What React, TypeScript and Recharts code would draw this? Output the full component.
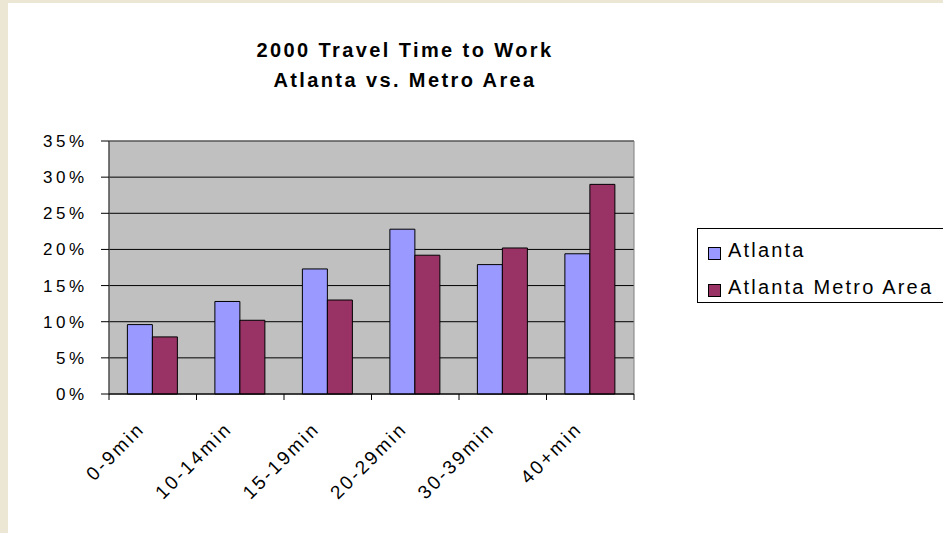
import React from "react";
import { BarChart, Bar, XAxis, YAxis, CartesianGrid, Legend, ReferenceArea } from "recharts";

const categories = ["0-9min", "10-14min", "15-19min", "20-29min", "30-39min", "40+min"];
const atlanta = [9.6, 12.8, 17.3, 22.8, 17.9, 19.4];
const metro = [7.9, 10.2, 13.0, 19.2, 20.2, 29.0];
const yTicks = [0, 5, 10, 15, 20, 25, 30, 35];
const seriesNames = ["Atlanta", "Atlanta Metro Area"];
const titleLines = ["2000 Travel Time to Work", "Atlanta vs. Metro Area"];

const data = categories.map((c, i) => ({ name: c, atlanta: atlanta[i], metro: metro[i] }));

const W = 943;
const H = 533;
const PLOT_LEFT = 109;
const PLOT_RIGHT = 634;
const PLOT_TOP = 141;
const PLOT_BOTTOM = 394;
const Y_AXIS_W = 80;
const X_AXIS_H = 100;
const BAND = (PLOT_RIGHT - PLOT_LEFT) / categories.length;
const FONT = "Arial, 'Liberation Sans', sans-serif";

const XTick = (props: any) => {
  const { x, y, payload, index } = props;
  const ax = x - 7;
  const ay = y + 36;
  return (
    <g>
      <line x1={x - BAND / 2} x2={x - BAND / 2} y1={y} y2={y + 6} stroke="#000" />
      {index === categories.length - 1 && (
        <line x1={x + BAND / 2} x2={x + BAND / 2} y1={y} y2={y + 6} stroke="#000" />
      )}
      <text
        x={ax}
        y={ay}
        textAnchor="end"
        transform={`rotate(-45 ${ax} ${ay})`}
        fontSize={19}
        fontFamily={FONT}
        letterSpacing={2.5}
        fill="#000"
      >
        {payload.value}
      </text>
    </g>
  );
};

const LegendContent = (props: any) => {
  const payload = props.payload || [];
  return (
    <div
      style={{
        position: "relative",
        width: 260,
        height: 75,
        border: "1px solid #000",
        background: "#fff",
        boxSizing: "border-box",
        fontFamily: FONT,
      }}
    >
      {payload.map((p: any, i: number) => (
        <div key={i}>
          <div
            style={{
              position: "absolute",
              left: 10,
              top: 18 + i * 37,
              width: 13,
              height: 13,
              boxSizing: "border-box",
              background: p.color,
              border: "1px solid #000",
            }}
          />
          <div
            style={{
              position: "absolute",
              left: 30,
              top: 9 + i * 37,
              fontSize: 20,
              letterSpacing: 2.2,
              lineHeight: "24px",
              color: "#000",
              whiteSpace: "nowrap",
            }}
          >
            {p.value}
          </div>
        </div>
      ))}
    </div>
  );
};

export default function App() {
  return (
    <div style={{ position: "absolute", left: 0, top: 0, width: W, height: H, background: "#ECE6D4", overflow: "hidden" }}>
      <div style={{ position: "absolute", left: 8, top: 3, right: 0, bottom: 0, background: "#fff" }} />
      <svg width={W} height={H} style={{ position: "absolute", left: 0, top: 0 }}>
        <text x={405} y={57} textAnchor="middle" fontSize={20} fontWeight="bold" letterSpacing={2.4} fontFamily={FONT} fill="#000">
          {titleLines[0]}
        </text>
        <text x={405} y={87} textAnchor="middle" fontSize={20} fontWeight="bold" letterSpacing={2.4} fontFamily={FONT} fill="#000">
          {titleLines[1]}
        </text>
      </svg>
      <div style={{ position: "absolute", left: 0, top: 0 }}>
        <BarChart
          width={W}
          height={H}
          data={data}
          margin={{ top: PLOT_TOP, right: W - PLOT_RIGHT, bottom: H - PLOT_BOTTOM - X_AXIS_H, left: PLOT_LEFT - Y_AXIS_W }}
          barCategoryGap="21%"
          barGap={0}
        >
          <CartesianGrid vertical={false} fill="#C0C0C0" fillOpacity={1} stroke="#000" strokeDasharray="" />
          <ReferenceArea y1={0} y2={35} fill="none" stroke="#808080" strokeWidth={1} />
          <XAxis
            dataKey="name"
            height={X_AXIS_H}
            tickLine={false}
            tickSize={0}
            tickMargin={0}
            axisLine={{ stroke: "#000" }}
            tick={<XTick />}
            interval={0}
          />
          <YAxis
            width={Y_AXIS_W}
            domain={[0, 35]}
            ticks={yTicks}
            tickFormatter={(v: number) => `${v}%`}
            tickSize={8}
            tickMargin={13.5}
            tickLine={{ stroke: "#000" }}
            axisLine={{ stroke: "#333" }}
            tick={{ fill: "#000", fontSize: 17, fontFamily: FONT, letterSpacing: 3.5 }}
          />
          <Legend
            layout="vertical"
            align="center"
            verticalAlign="middle"
            wrapperStyle={{ left: 697, top: 228, width: 260, height: 75 }}
            content={<LegendContent />}
          />
          <Bar dataKey="atlanta" name={seriesNames[0]} fill="#9999FF" stroke="#000" strokeWidth={1} isAnimationActive={false} />
          <Bar dataKey="metro" name={seriesNames[1]} fill="#993366" stroke="#000" strokeWidth={1} isAnimationActive={false} />
        </BarChart>
      </div>
    </div>
  );
}
